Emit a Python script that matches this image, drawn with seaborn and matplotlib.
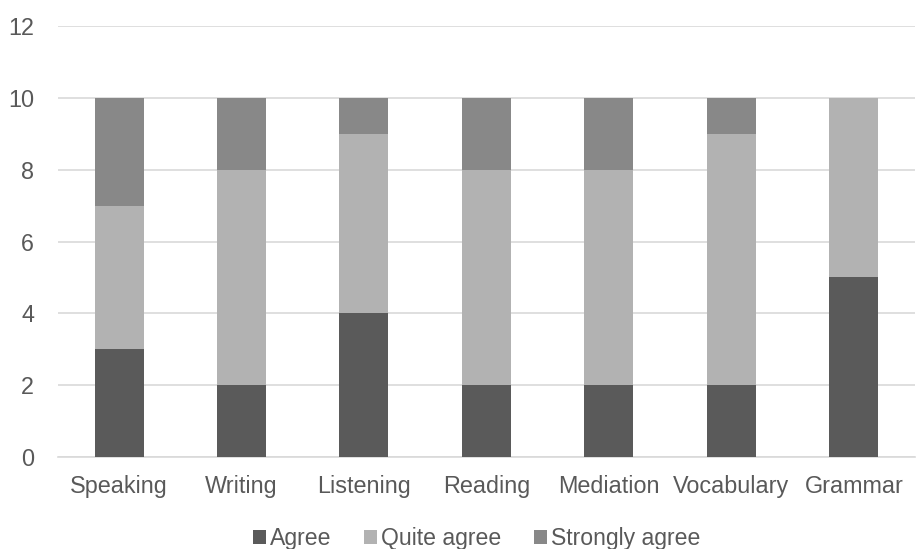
import matplotlib
matplotlib.use("Agg")
import matplotlib.pyplot as plt
import seaborn as sns
import pandas as pd
import numpy as np
from matplotlib.patches import Patch

categories = ["Speaking", "Writing", "Listening", "Reading", "Mediation", "Vocabulary", "Grammar"]
agree = [3, 2, 4, 2, 2, 2, 5]
quite_agree = [4, 6, 5, 6, 6, 7, 5]
strongly_agree = [3, 2, 1, 2, 2, 1, 0]
series_names = ["Agree", "Quite agree", "Strongly agree"]
y_ticks = [0, 2, 4, 6, 8, 10, 12]

colors = ["#5a5a5a", "#b2b2b2", "#888888"]
text_color = "#595959"

sns.set_theme(style="white")
plt.rcParams["font.family"] = ["Liberation Sans", "DejaVu Sans"]

fig = plt.figure(figsize=(9.17, 5.49), dpi=100)
ax = fig.add_axes([0.063, 0.1676, 0.935, 0.785])

layers = [agree, quite_agree, strongly_agree]
bottom = np.zeros(len(categories))
for name, vals, col in zip(series_names, layers, colors):
    df = pd.DataFrame({"category": categories, "value": vals})
    sns.barplot(data=df, x="category", y="value", order=categories, color=col,
                width=0.4, bottom=bottom, ax=ax, saturation=1, linewidth=0, zorder=3)
    bottom = bottom + np.array(vals)

ax.set_ylim(0, 12)
ax.set_yticks(y_ticks)
ax.set_xlim(-0.5, len(categories) - 0.5)
ax.yaxis.grid(True, color="#d9d9d9", linewidth=1.2, zorder=0)
ax.set_axisbelow(True)
for s in ax.spines.values():
    s.set_visible(False)
ax.spines["bottom"].set_visible(True)
ax.spines["bottom"].set_color("#d9d9d9")
ax.spines["bottom"].set_linewidth(1.2)
ax.set_xlabel("")
ax.set_ylabel("")
ax.tick_params(axis="both", length=0, labelsize=16.8, colors=text_color)
ax.tick_params(axis="y", pad=17)
ax.tick_params(axis="x", pad=13)

handles = [Patch(facecolor=c, edgecolor="none") for c in colors]
fig.legend(handles, series_names, loc="center", bbox_to_anchor=(0.52, 0.019),
           ncol=3, frameon=False, fontsize=16.6, labelcolor=text_color,
           handlelength=0.55, handleheight=0.55, handletextpad=0.2, columnspacing=1.4)

fig.savefig("out.png", dpi=100, facecolor="white")
